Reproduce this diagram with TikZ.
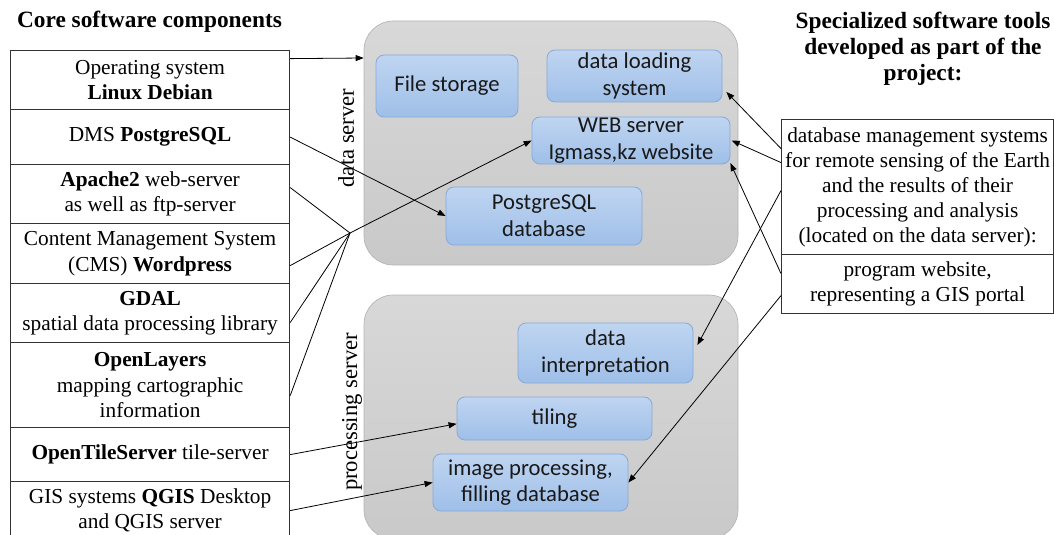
\documentclass[tikz,border=0pt]{standalone}
\usepackage{fontspec}
\setmainfont{Liberation Serif}
\newfontfamily\carlito{Carlito}
\usetikzlibrary{arrows.meta,calc}
\definecolor{srvtop}{HTML}{D8D8D8}
\definecolor{srvbot}{HTML}{C9C9C9}
\definecolor{srvdraw}{HTML}{B4B4B4}
\definecolor{bltop}{HTML}{BFD5F1}
\definecolor{blbot}{HTML}{9FBFE8}
\definecolor{bldraw}{HTML}{86A9D8}
\begin{document}
\begin{tikzpicture}[x=0.75pt,y=-0.75pt,
  row/.style={draw=black!80, line width=0.9pt, minimum width=209.25pt, inner sep=2pt,
    align=center, font=\fontsize{16}{19}\selectfont, anchor=north west},
  spec/.style={draw=black!80, line width=0.9pt, minimum width=204pt, inner sep=2pt,
    align=center, font=\fontsize{16}{18.75}\selectfont, anchor=north west},
  server/.style={rounded corners=22pt, draw=srvdraw, line width=0.5pt,
    top color=srvtop, bottom color=srvbot, minimum width=280.5pt, minimum height=183pt},
  blue/.style={rounded corners=6pt, draw=bldraw, line width=0.6pt, top color=bltop,
    bottom color=blbot, font=\carlito\fontsize{17}{20}\selectfont, align=center,
    inner sep=0pt, text=black!90},
  vlabel/.style={rotate=90, font=\fontsize{17}{20}\selectfont},
  title/.style={font=\bfseries\fontsize{17.5}{19.5}\selectfont, align=center},
  conn/.style={-{Triangle[length=6pt,width=4.5pt]}, line width=0.6pt},
  plain/.style={line width=0.6pt}]
\useasboundingbox (0,0) rectangle (1054,535);

% titles
\node[title] (t1) at (149.5,22) {Core software components};
\node[title] (t2) at (923,48.5) {Specialized software tools\\developed as part of the\\project:};

% server boxes
\node[server] (ds) at (551,143) {};
\node[server] (ps) at (551,417) {};

% blue boxes
\node[blue, minimum width=106.5pt, minimum height=46.5pt] (fs) at (447,86) {File storage};
\node[blue, minimum width=131.25pt, minimum height=39pt] (dls) at (634.5,76) {data loading\\system};
\node[blue, minimum width=148.5pt, minimum height=35.25pt] (web) at (631,140.5) {WEB server\\Igmass,kz website};
\node[blue, minimum width=147pt, minimum height=43.5pt] (pg) at (544,216) {PostgreSQL\\database};
\node[blue, minimum width=131.25pt, minimum height=45pt] (di) at (605.5,353) {data\\interpretation};
\node[blue, minimum width=146.25pt, minimum height=32.25pt] (tile) at (554.5,418.5) {tiling};
\node[blue, minimum width=146.25pt, minimum height=42.75pt] (img) at (530.5,482.5) {image processing,\\filling database};

% vertical labels
\node[vlabel] (dsl) at (346,138) {data server};
\node[vlabel] (psl) at (352,412) {processing server};

% left table
\node[row, minimum height=44.25pt] (r1) at (10,50) {Operating system\\\textbf{Linux Debian}};
\node[row, minimum height=41.25pt] (r2) at (10,109) {DMS \textbf{PostgreSQL}};
\node[row, minimum height=44.25pt] (r3) at (10,164) {\textbf{Apache2} web-server\\as well as ftp-server};
\node[row, minimum height=45pt] (r4) at (10,223) {Content Management System\\(CMS) \textbf{Wordpress}};
\node[row, minimum height=44.25pt] (r5) at (10,283) {\textbf{GDAL}\\spatial data processing library};
\node[row, minimum height=63.75pt] (r6) at (10,342) {\textbf{OpenLayers}\\mapping cartographic\\information};
\node[row, minimum height=40.5pt] (r7) at (10,427) {\textbf{OpenTileServer} tile-server};
\node[row, minimum height=43.5pt] (r8) at (10,481) {GIS systems \textbf{QGIS} Desktop\\and QGIS server};

% right table
\node[spec, minimum height=101.25pt] (sp1) at (781,119) {database management systems\\for remote sensing of the Earth\\and the results of their\\processing and analysis\\(located on the data server):};
\node[spec, minimum height=44.25pt] (sp2) at (781,254) {program website,\\representing a GIS portal};

% left connectors
\coordinate (hub) at (350,233);
\draw[conn] ([yshift=16.1pt]r1.east) -- ([yshift=63.75pt]ds.west);
\draw[conn] (r2.east) -- (pg.west);
\draw[plain] ([yshift=4.9pt]r3.east) -- (hub);
\draw[plain] ([yshift=-9pt]r4.east) -- (hub);
\draw[plain] ([yshift=-7.1pt]r5.east) -- (hub);
\draw[plain] ([yshift=-7.9pt]r6.east) -- (hub);
\draw[conn] (hub) -- (web.west);
\draw[conn] (r7.east) -- ([yshift=-4pt]tile.west);
\draw[conn] (r8.east) -- (img.west);

% right connectors
\draw[conn] ([yshift=28.9pt]sp1.west) -- ([xshift=3pt,yshift=-12pt]dls.east);
\draw[conn] ([yshift=18.4pt]sp1.west) -- ([xshift=1pt]web.east);
\draw[conn] ([yshift=-2.6pt]sp1.west) -- ([xshift=3pt,yshift=6pt]di.east);
\draw[conn] ([yshift=7.9pt]sp2.west) -- ([yshift=1pt]web.south east);
\draw[conn] ([yshift=-8.6pt]sp2.west) -- (img.east);
\end{tikzpicture}
\end{document}
